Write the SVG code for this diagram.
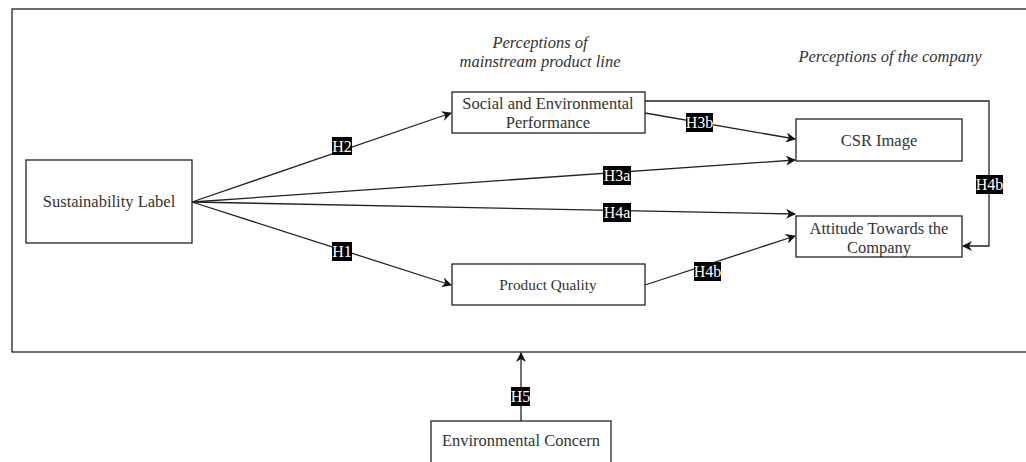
<svg xmlns="http://www.w3.org/2000/svg" width="1026" height="462" viewBox="0 0 1026 462">
<style>
.box{fill:#fff;stroke:#222;stroke-width:1.3}
.t{font-family:"Liberation Serif",serif;font-size:16.5px;fill:#333;text-anchor:middle}
.it{font-family:"Liberation Serif",serif;font-size:16.5px;font-style:italic;fill:#333;text-anchor:middle}
.c{fill:none;stroke:#222;stroke-width:1.3}
.lb{fill:#000}
.lt{font-family:"Liberation Serif",serif;font-size:16px;fill:#fff;text-anchor:middle}
</style>
<defs>
<marker id="a" markerWidth="10" markerHeight="10" refX="9" refY="5" orient="auto" markerUnits="userSpaceOnUse">
<path d="M0,0 L10,5 L0,10 L3,5 Z" fill="#111"/>
</marker>
</defs>
<rect width="1026" height="462" fill="#fff"/>
<rect id="frame" x="12" y="9" width="1030" height="343" fill="none" stroke="#222" stroke-width="1.3"/>
<text class="it" x="540" y="48">Perceptions of</text>
<text class="it" x="540" y="67">mainstream product line</text>
<text class="it" x="890" y="62">Perceptions of the company</text>
<g id="connectors">
<path class="c" d="M192,202 L451,113" marker-end="url(#a)"/>
<path class="c" d="M192,202 L451,285" marker-end="url(#a)"/>
<path class="c" d="M192,202 L795,160" marker-end="url(#a)"/>
<path class="c" d="M192,202 L795,214" marker-end="url(#a)"/>
<path class="c" d="M645,113 L795,139" marker-end="url(#a)"/>
<path class="c" d="M645,101 L989,101 L989,246 L963,246" marker-end="url(#a)"/>
<path class="c" d="M645,285 L795,236" marker-end="url(#a)"/>
<path class="c" d="M521,421 L521,353" marker-end="url(#a)"/>
<rect class="lb" x="332" y="137" width="20" height="18"/><text class="lt" x="342" y="152">H2</text>
<rect class="lb" x="332" y="242" width="20" height="19"/><text class="lt" x="342" y="257">H1</text>
<rect class="lb" x="603" y="166" width="28" height="19"/><text class="lt" x="617" y="181">H3a</text>
<rect class="lb" x="603" y="203" width="28" height="19"/><text class="lt" x="617" y="218">H4a</text>
<rect class="lb" x="686" y="113" width="27" height="19"/><text class="lt" x="699.5" y="128">H3b</text>
<rect class="lb" x="976" y="175" width="27" height="19"/><text class="lt" x="989.5" y="190">H4b</text>
<rect class="lb" x="694" y="262" width="27" height="19"/><text class="lt" x="707.5" y="277">H4b</text>
<rect class="lb" x="511" y="387" width="19" height="19"/><text class="lt" x="520.5" y="402">H5</text>
</g>
<g id="sustainability-label"><rect class="box" x="26" y="160" width="166" height="83"/><text class="t" x="109" y="207">Sustainability Label</text></g>
<g id="social-environmental"><rect class="box" x="452" y="92" width="193" height="41"/><text class="t" x="548" y="109">Social and Environmental</text><text class="t" x="548" y="128">Performance</text></g>
<g id="product-quality"><rect class="box" x="452" y="264" width="193" height="41"/><text class="t" x="548" y="290" style="font-size:15.3px">Product Quality</text></g>
<g id="csr-image"><rect class="box" x="796" y="119" width="166" height="42"/><text class="t" x="879" y="146">CSR Image</text></g>
<g id="attitude"><rect class="box" x="796" y="216" width="166" height="41"/><text class="t" x="879" y="234">Attitude Towards the</text><text class="t" x="879" y="253">Company</text></g>
<g id="environmental-concern"><rect class="box" x="431" y="421" width="180" height="60"/><text class="t" x="521" y="446">Environmental Concern</text></g>
</svg>
